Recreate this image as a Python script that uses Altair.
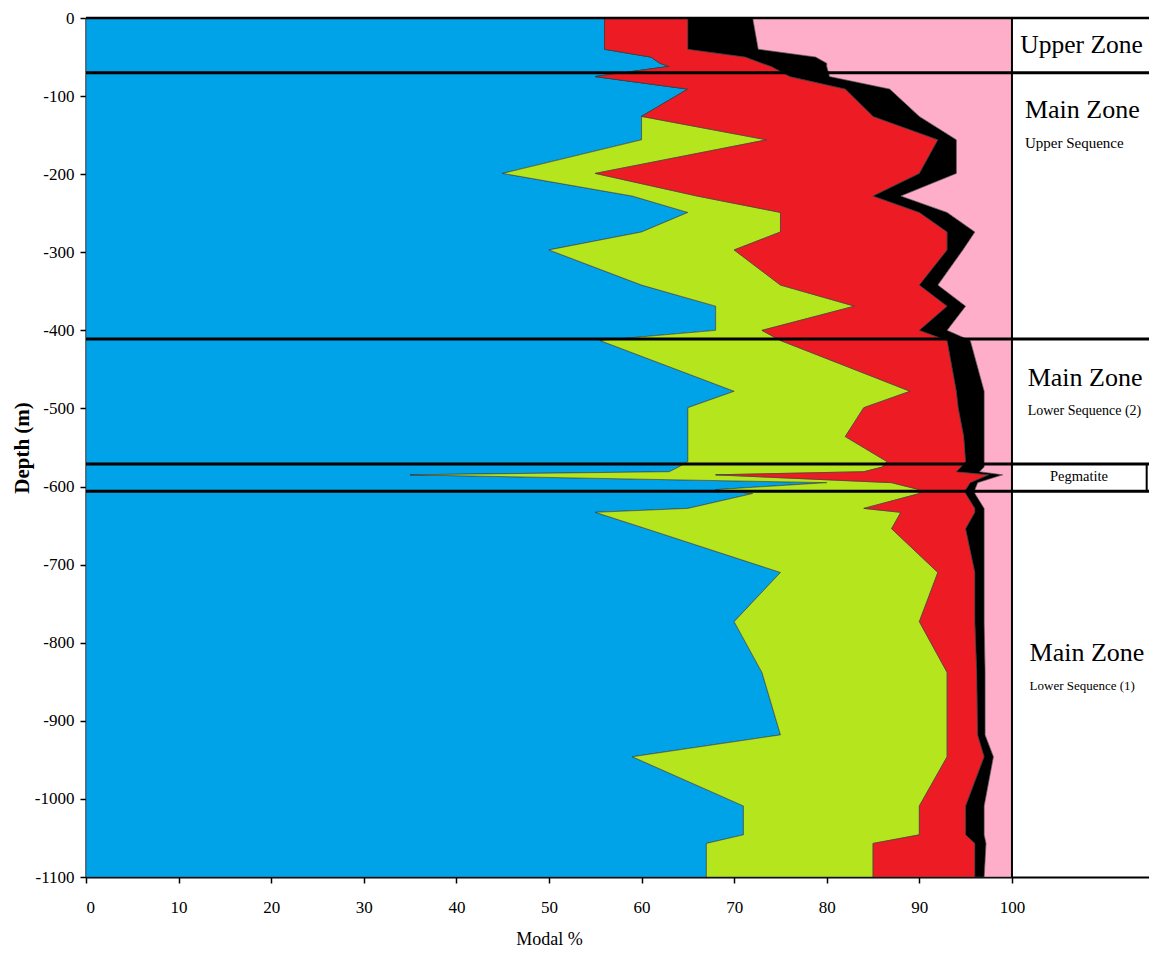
import altair as alt
import pandas as pd

# ---- data (modal %, by depth) ----
depth = [0, -40, -50, -58, -62, -75, -91, -126, -156, -199, -228, -249, -274, -297,
         -342, -369, -400, -413, -478, -499, -536, -568, -575, -581, -585, -595,
         -604, -609, -628, -633, -654, -710, -773, -838, -918, -946, -1009, -1046,
         -1057, -1100]
plagioclase = [56, 56, 61, 62, 63, 55, 65, 60, 60, 45, 59, 65, 60, 50,
               60, 68, 68, 55.5, 70, 65, 65, 65, 64, 63, 35, 80,
               68, 72, 65, 55, 60.5, 75, 70, 73, 75, 59, 71, 71,
               67, 67]
orthopyroxene = [0, 0, 0, 0, 0, 0, 0, 0, 13.5, 10, 7, 10, 15, 20,
                 15, 15, 5, 19.5, 19, 19, 17, 21.5, 22, 21, 33, 7,
                 22, 18, 19, 33, 26.5, 17, 20, 20, 18, 34, 19, 19,
                 18, 18]
clinopyroxene = [9, 9, 10.2, 11, 11, 21, 17, 25, 18.5, 35, 19, 15, 18, 23,
                 15, 10, 17, 18, 5, 10.2, 12.8, 8.5, 8.5, 10, 29.5, 8.5,
                 5, 5, 12, 8, 8, 4, 6, 3.2, 3.3, 4, 5, 5,
                 11, 11]
opaques = [7, 7.6, 7.6, 7, 6, 4.3, 4.8, 5, 2, 4, 3, 3, 3, 1.7,
           2, 2, 3, 2.5, 3, 2.8, 2.2, 2, 2.5, 2.5, 1.5, 0.8,
           1, 1, 1, 1, 2, 1, 1, 0.9, 0.8, 1, 2, 2,
           1.2, 1]
other = [28, 27.4, 21.2, 20, 20, 19.7, 13.2, 10, 6, 6, 12, 7, 4, 5.3,
         8, 5, 7, 4.5, 3, 3, 3, 3, 3, 3.5, 1, 3.7,
         4, 4, 3, 3, 3, 3, 3, 2.9, 2.9, 2, 3, 3,
         2.8, 3]

minerals = ["Plagioclase", "Orthopyroxene", "Clinopyroxene", "Opaques", "Other"]
colors = ["#00A2E8", "#B5E61D", "#ED1C24", "#000000", "#FFAEC9"]

zone_depths = [-70, -411, -571, -606]
zone_labels = ["Upper Zone", "Main Zone", "Upper Sequence", "Main Zone",
               "Lower Sequence (2)", "Pegmatite", "Main Zone", "Lower Sequence (1)"]
zone_label_x = [100.9, 101.4, 101.4, 101.7, 101.7, 104.1, 101.9, 101.9]
zone_label_y = [-35, -118, -160, -461, -503, -588, -813, -855]
zone_label_size = [25.5, 26, 15, 26, 14, 14.5, 26, 13]

x_ticks = [0, 10, 20, 30, 40, 50, 60, 70, 80, 90, 100]
y_ticks = [0, -100, -200, -300, -400, -500, -600, -700, -800, -900, -1000, -1100]

# ---- layout constants ----
W, H = 1063, 859
XMAX = 114.8
FONT = "Liberation Serif"

series = [plagioclase, orthopyroxene, clinopyroxene, opaques, other]
rows = []
for i, (name, vals) in enumerate(zip(minerals, series)):
    for d, v in zip(depth, vals):
        rows.append({"depth": d, "value": v, "mineral": name, "ord": i})
df = pd.DataFrame(rows)

xscale = alt.Scale(domain=[0, XMAX], nice=False, zero=True)
yscale = alt.Scale(domain=[-1100, 0], nice=False, zero=False)

areas = alt.Chart(df).mark_area(orient="horizontal", stroke="#3a3a3a",
                                strokeWidth=0.6, strokeJoin="miter").encode(
    y=alt.Y("depth:Q", scale=yscale, stack=None,
            axis=alt.Axis(values=y_ticks, title="Depth (m)", grid=False,
                          labelExpr="'' + datum.value",
                          labelFont=FONT, labelFontSize=17, labelColor="#000",
                          titleFont=FONT, titleFontSize=21, titleFontWeight="bold",
                          titleColor="#000", tickColor="#000", tickSize=6,
                          tickWidth=1.5, domainColor="#000", domainWidth=2,
                          labelPadding=6, titleX=-64, titleY=H / 2,
                          titleAngle=-90, titleBaseline="middle", titleAlign="center")),
    x=alt.X("value:Q", scale=xscale, stack="zero",
            axis=alt.Axis(values=x_ticks, title="Modal %", grid=False,
                          labelFont=FONT, labelFontSize=17, labelColor="#000",
                          titleFont=FONT, titleFontSize=18, titleFontWeight="normal",
                          titleColor="#000", tickColor="#000", tickSize=6,
                          tickWidth=1.5, domainColor="#000", domainWidth=2,
                          labelPadding=16, titleX=463, titleY=62,
                          titleBaseline="middle", titleAlign="center")),
    color=alt.Color("mineral:N", scale=alt.Scale(domain=minerals, range=colors),
                    legend=None),
    order=alt.Order("ord:Q"),
)

zones = alt.Chart(pd.DataFrame({"depth": zone_depths})).mark_rule(
    color="#000", strokeWidth=3).encode(
    y=alt.Y("depth:Q", scale=yscale),
    x=alt.value(0), x2=alt.value(W))

top = alt.Chart(pd.DataFrame({"depth": [0]})).mark_rule(
    color="#000", strokeWidth=2.5).encode(
    y=alt.Y("depth:Q", scale=yscale),
    x=alt.value(0), x2=alt.value(W))

frame = alt.Chart(pd.DataFrame({"x": [100]})).mark_rule(
    color="#000", strokeWidth=2).encode(
    x=alt.X("x:Q", scale=xscale), y=alt.value(0), y2=alt.value(H))

peg_box = alt.Chart(pd.DataFrame({"x": [XMAX - 0.25], "y1": [zone_depths[2]],
                                  "y2": [zone_depths[3]]})).mark_rule(
    color="#000", strokeWidth=2).encode(
    x=alt.X("x:Q", scale=xscale),
    y=alt.Y("y1:Q", scale=yscale), y2="y2:Q")

labels_df = pd.DataFrame({"x": zone_label_x, "y": zone_label_y,
                          "label": zone_labels, "size": zone_label_size})
labels = alt.Chart(labels_df).mark_text(
    align="left", baseline="middle", font=FONT, color="#000").encode(
    x=alt.X("x:Q", scale=xscale), y=alt.Y("y:Q", scale=yscale),
    text="label:N",
    size=alt.Size("size:Q", scale=None, legend=None))

chart = alt.layer(areas, zones, top, frame, peg_box, labels).properties(
    width=W, height=H,
    autosize=alt.AutoSizeParams(type="none"),
    padding={"left": 78, "top": 10, "right": 0, "bottom": 76},
    background="white",
).configure_view(stroke=None)

chart.save("out.html", embed_options={"renderer": "svg", "actions": False})
